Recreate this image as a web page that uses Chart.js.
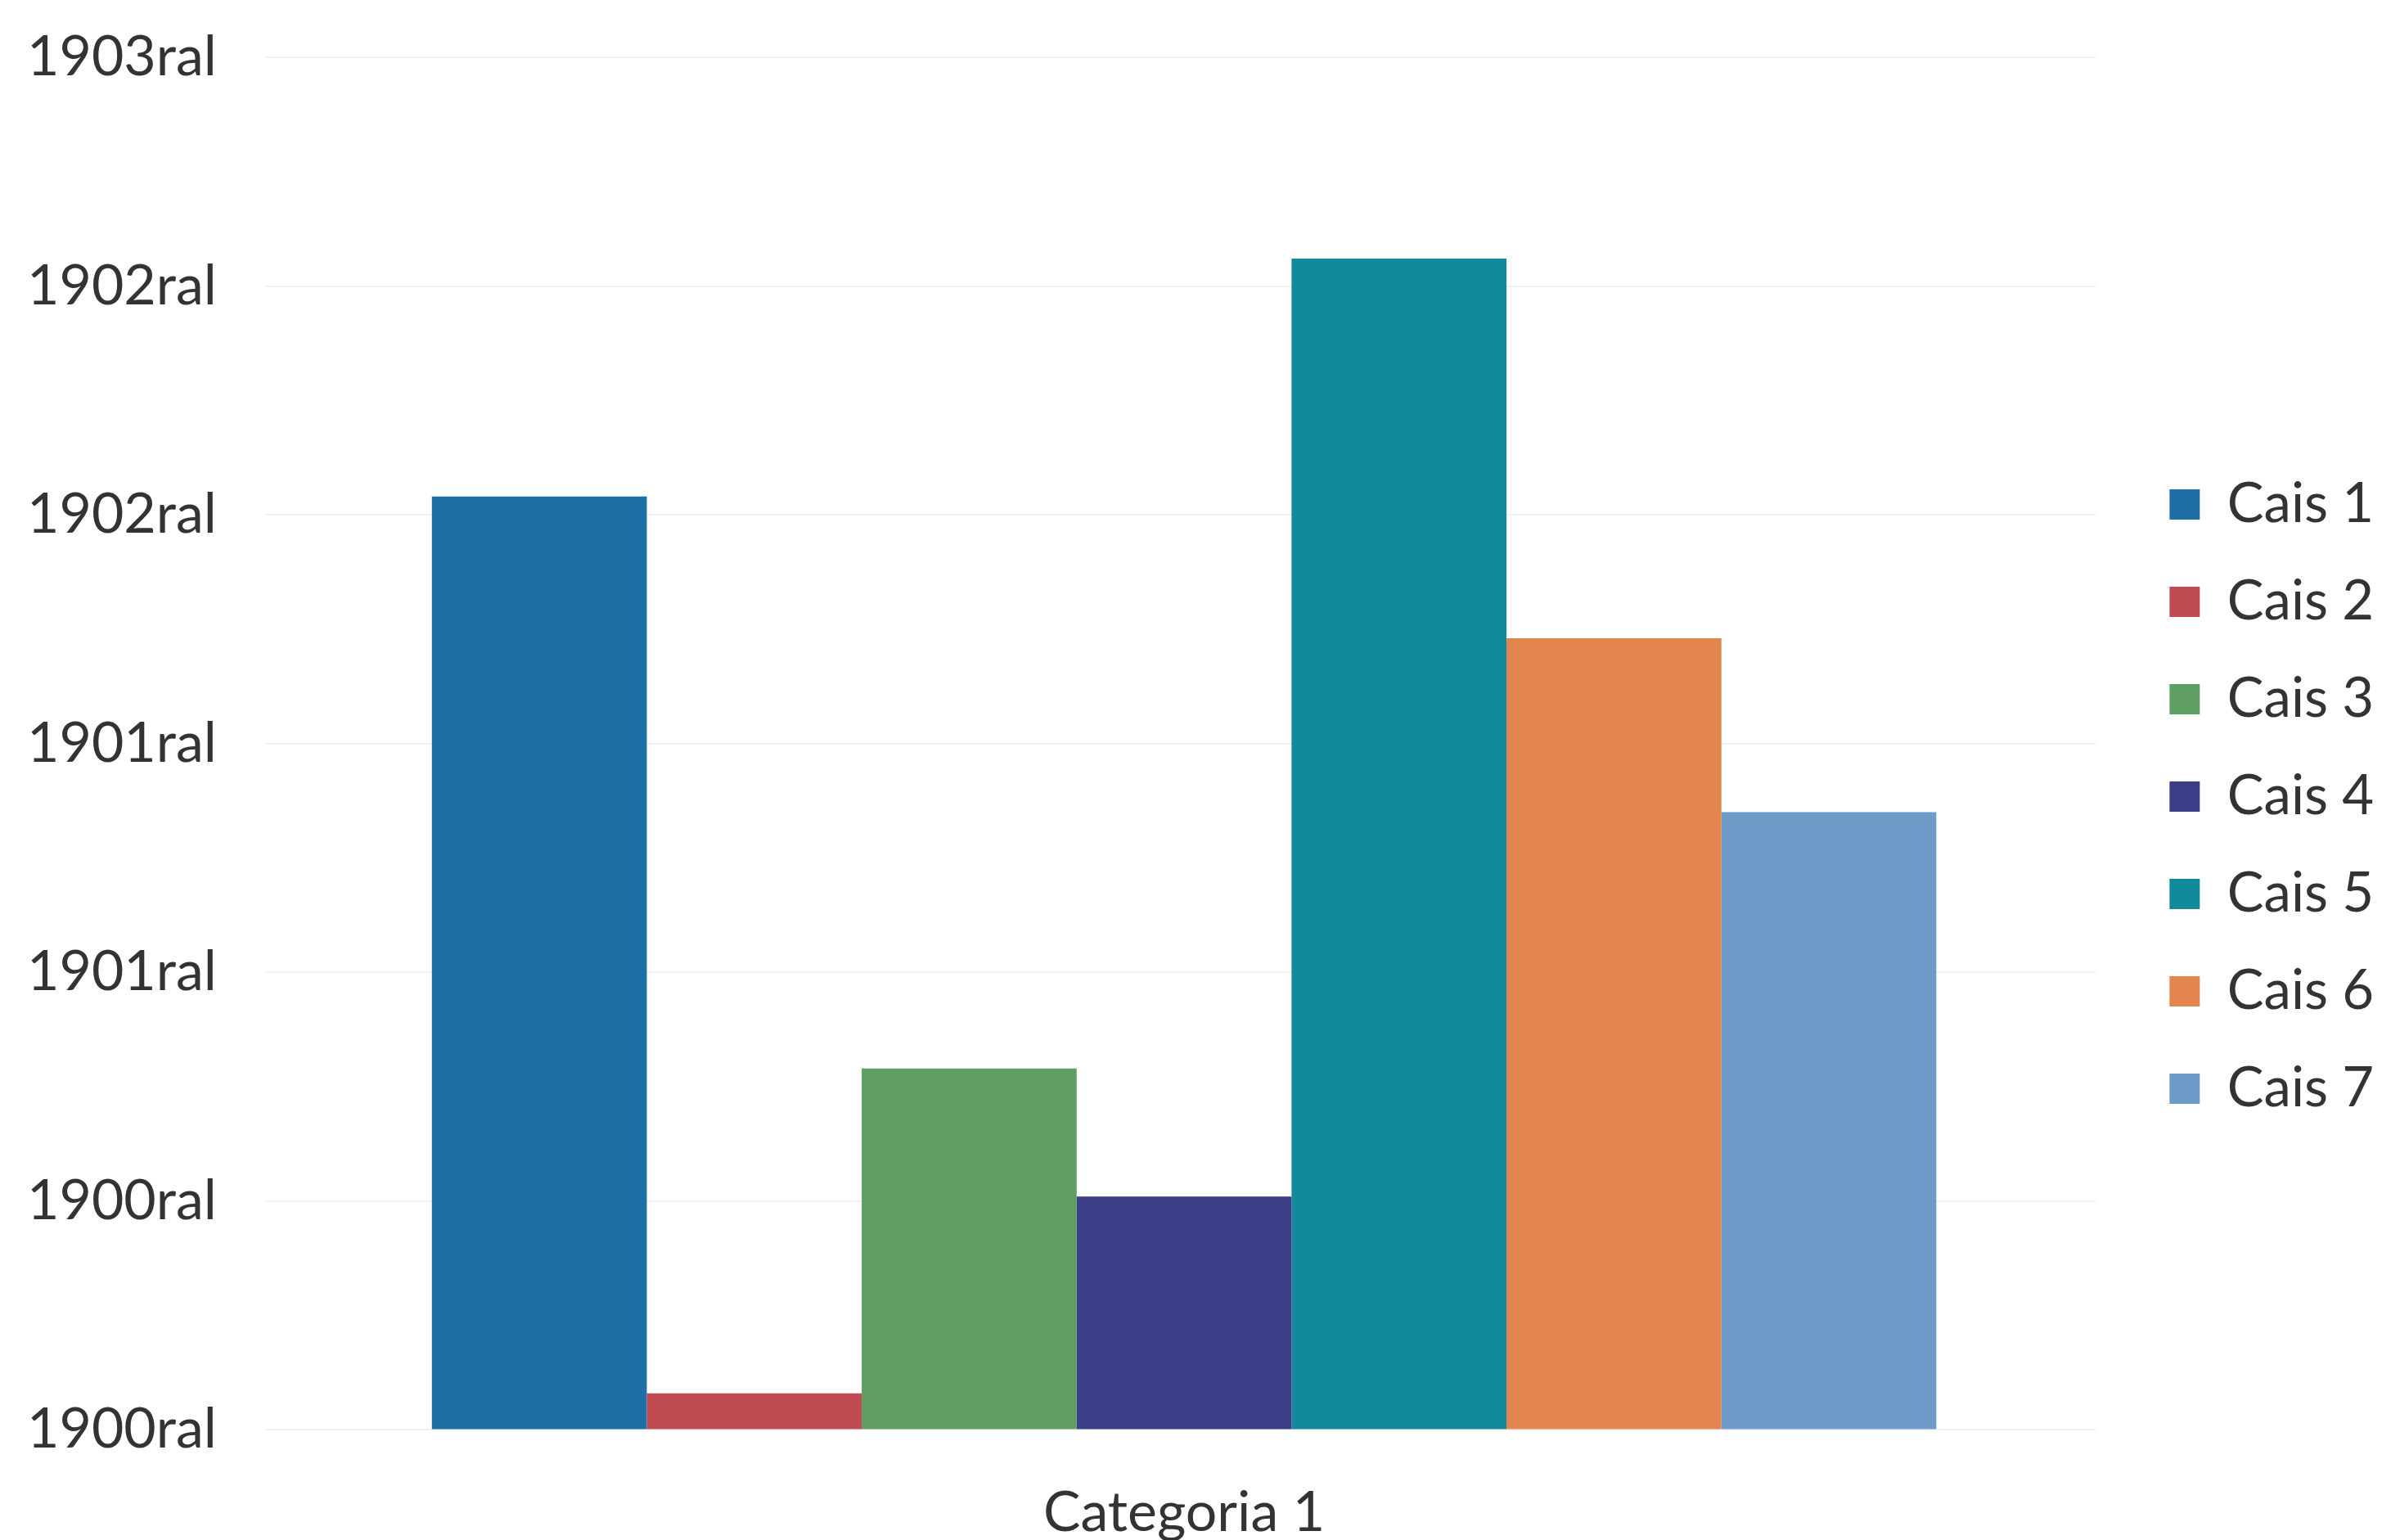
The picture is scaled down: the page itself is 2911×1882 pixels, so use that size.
<!DOCTYPE html>
<html>
<head>
<meta charset="utf-8">
<script src="https://cdn.jsdelivr.net/npm/chart.js@4/dist/chart.umd.min.js"></script>
<style>
  body { margin: 0; background: #ffffff; }
  #wrap { width: 2911px; height: 1882px; }
</style>
</head>
<body>
<div id="wrap"><canvas id="myChart"></canvas></div>
<script>
// ***** datos *****
const categories = ["Categoria 1"]
const seriesNames = ["Cais 1", "Cais 2", "Cais 3", "Cais 4", "Cais 5", "Cais 6", "Cais 7"]
const seriesValues = [2.04, 0.08, 0.79, 0.51, 2.56, 1.73, 1.35]
const seriesColors = ["#1f6fa6", "#c14b52", "#5f9e62", "#3b3d87", "#13899c", "#e3854f", "#6c9cc7"]
const tickValues = [0, 0.5, 1, 1.5, 2, 2.5, 3]
const tickLabels = ["1900ral", "1900ral", "1901ral", "1901ral", "1902ral", "1902ral", "1903ral"]

const font = "Lato, 'Open Sans', sans-serif"
const legendGap = 38   // hueco extra entre el grafico y la leyenda
const legendShiftY = -33

// ***** leyenda: deja aire a su izquierda *****
const legendSpace = {
  id: "legendSpace",
  beforeLayout(chart) {
    const lg = chart.legend
    if (lg && !lg._spaced) {
      const fit = lg.fit.bind(lg)
      lg.fit = function () {
        fit()
        this.width += legendGap
      }
      lg._spaced = true
    }
  },
  afterLayout(chart) {
    const lg = chart.legend
    if (lg) {
      lg.left += legendGap
      lg.top += legendShiftY
      lg.bottom += legendShiftY
    }
  }
}

// ***** grafico *****
const datasets = seriesNames.map((name, i) => ({
  label: name,
  data: [seriesValues[i]],
  backgroundColor: seriesColors[i],
  borderWidth: 0,
  categoryPercentage: 0.825,
  barPercentage: 1.0
}))

const ctx = document.getElementById("myChart").getContext("2d")
const myChart = new Chart(ctx, {
  type: "bar",
  data: { labels: categories, datasets: datasets },
  plugins: [legendSpace],
  options: {
    responsive: true,
    maintainAspectRatio: false,
    animation: false,
    layout: { padding: { left: -27, right: 0, top: 70, bottom: -61 } },
    plugins: {
      tooltip: { enabled: false },
      legend: {
        position: "right",
        labels: {
          font: { family: font, size: 67 },
          color: "#333333",
          boxWidth: 37,
          boxHeight: 37,
          padding: 52
        }
      }
    },
    scales: {
      x: {
        grid: { display: false },
        border: { display: false },
        ticks: { font: { family: font, size: 68 }, color: "#333333", padding: 53 }
      },
      y: {
        min: 0,
        max: 3,
        afterBuildTicks: axis => {
          axis.ticks = tickValues.map(v => ({ value: v }))
        },
        afterFit: axis => {
          axis.paddingTop = 0
          axis.paddingBottom = 0
        },
        grid: { color: "#f1f1f1", lineWidth: 2, tickLength: 8 },
        border: { display: false },
        ticks: {
          font: { family: font, size: 68 },
          color: "#333333",
          padding: 60,
          callback: (val, idx) => tickLabels[idx]
        }
      }
    }
  }
})
</script>
</body>
</html>
